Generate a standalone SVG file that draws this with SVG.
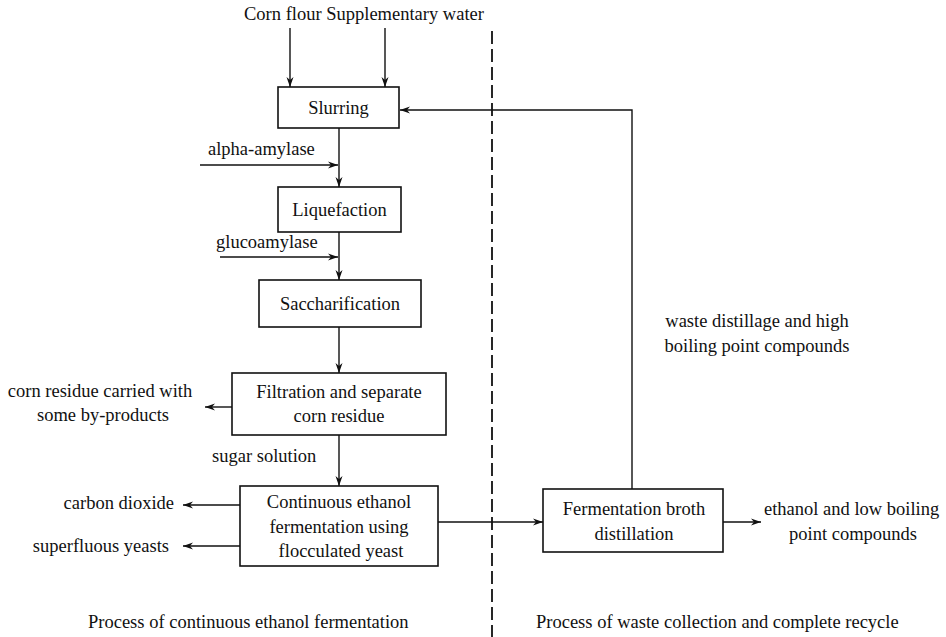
<svg xmlns="http://www.w3.org/2000/svg" width="946" height="637" viewBox="0 0 946 637">
<defs>
<marker id="ah" viewBox="0 0 10 10" refX="10" refY="5" markerWidth="10" markerHeight="10" markerUnits="userSpaceOnUse" orient="auto">
<path d="M0,1.5 L10,5 L0,8.5 L3,5 Z" fill="#111"/>
</marker>
<style>
text{font-family:"Liberation Serif","Times New Roman",serif;font-size:18.5px;fill:#111}
.m{text-anchor:middle}
.e{text-anchor:end}
.box{fill:#fff;stroke:#111;stroke-width:1.6}
.ln{fill:none;stroke:#111;stroke-width:1.4}
.ar{fill:none;stroke:#111;stroke-width:1.4;marker-end:url(#ah)}
.dash{fill:none;stroke:#111;stroke-width:1.8;stroke-dasharray:13 5}
</style>
</defs>
<rect width="946" height="637" fill="#fff"/>

<g id="connectors">
<line class="dash" x1="492" y1="31" x2="492" y2="637"/>
<line class="ar" x1="290" y1="28" x2="290" y2="87"/>
<line class="ar" x1="385" y1="28" x2="385" y2="87"/>
<line class="ar" x1="339" y1="128" x2="339" y2="187"/>
<line class="ar" x1="200" y1="165" x2="338" y2="165"/>
<line class="ar" x1="339" y1="232" x2="339" y2="280"/>
<line class="ar" x1="220" y1="257" x2="338" y2="257"/>
<line class="ar" x1="339" y1="327" x2="339" y2="373"/>
<line class="ar" x1="232" y1="407" x2="205" y2="407"/>
<line class="ar" x1="339" y1="435" x2="339" y2="486"/>
<line class="ar" x1="240" y1="505" x2="183" y2="505"/>
<line class="ar" x1="240" y1="546" x2="183" y2="546"/>
<line class="ar" x1="438" y1="522" x2="543" y2="522"/>
<line class="ar" x1="723" y1="522" x2="761" y2="522"/>
<polyline class="ar" points="632,489 632,110 400,110"/>
</g>

<g id="n-inputs"><text x="244" y="20">Corn flour Supplementary water</text></g>
<g id="n-slurring"><rect class="box" x="278" y="87" width="121" height="41"/><text class="m" x="338.5" y="114">Slurring</text></g>
<g id="n-alpha"><text x="208" y="155">alpha-amylase</text></g>
<g id="n-liquefaction"><rect class="box" x="278" y="187" width="123" height="45"/><text class="m" x="339.5" y="216">Liquefaction</text></g>
<g id="n-gluco"><text x="216" y="248">glucoamylase</text></g>
<g id="n-sacch"><rect class="box" x="259" y="280" width="162" height="47"/><text class="m" x="340" y="310">Saccharification</text></g>
<g id="n-filtration"><rect class="box" x="232" y="373" width="214" height="62"/><text class="m" x="339" y="398">Filtration and separate</text><text class="m" x="339" y="422">corn residue</text></g>
<g id="n-residue"><text class="m" x="100" y="397">corn residue carried with</text><text class="m" x="103" y="421">some by-products</text></g>
<g id="n-sugar"><text x="212" y="462">sugar solution</text></g>
<g id="n-fermentation"><rect class="box" x="240" y="486" width="198" height="80"/><text class="m" x="339" y="508">Continuous ethanol</text><text class="m" x="339" y="533">fermentation using</text><text class="m" x="341" y="557">flocculated yeast</text></g>
<g id="n-co2"><text class="e" x="174" y="509">carbon dioxide</text></g>
<g id="n-yeasts"><text class="e" x="169" y="552">superfluous yeasts</text></g>
<g id="n-distillation"><rect class="box" x="543" y="489" width="180" height="63"/><text class="m" x="634" y="515">Fermentation broth</text><text class="m" x="634" y="540">distillation</text></g>
<g id="n-waste"><text class="m" x="757" y="327">waste distillage and high</text><text class="m" x="757" y="352">boiling point compounds</text></g>
<g id="n-ethanol"><text x="764" y="515">ethanol and low boiling</text><text class="m" x="853" y="540">point compounds</text></g>
<g id="n-left-title"><text x="88" y="628">Process of continuous ethanol fermentation</text></g>
<g id="n-right-title"><text x="536" y="628">Process of waste collection and complete recycle</text></g>
</svg>
